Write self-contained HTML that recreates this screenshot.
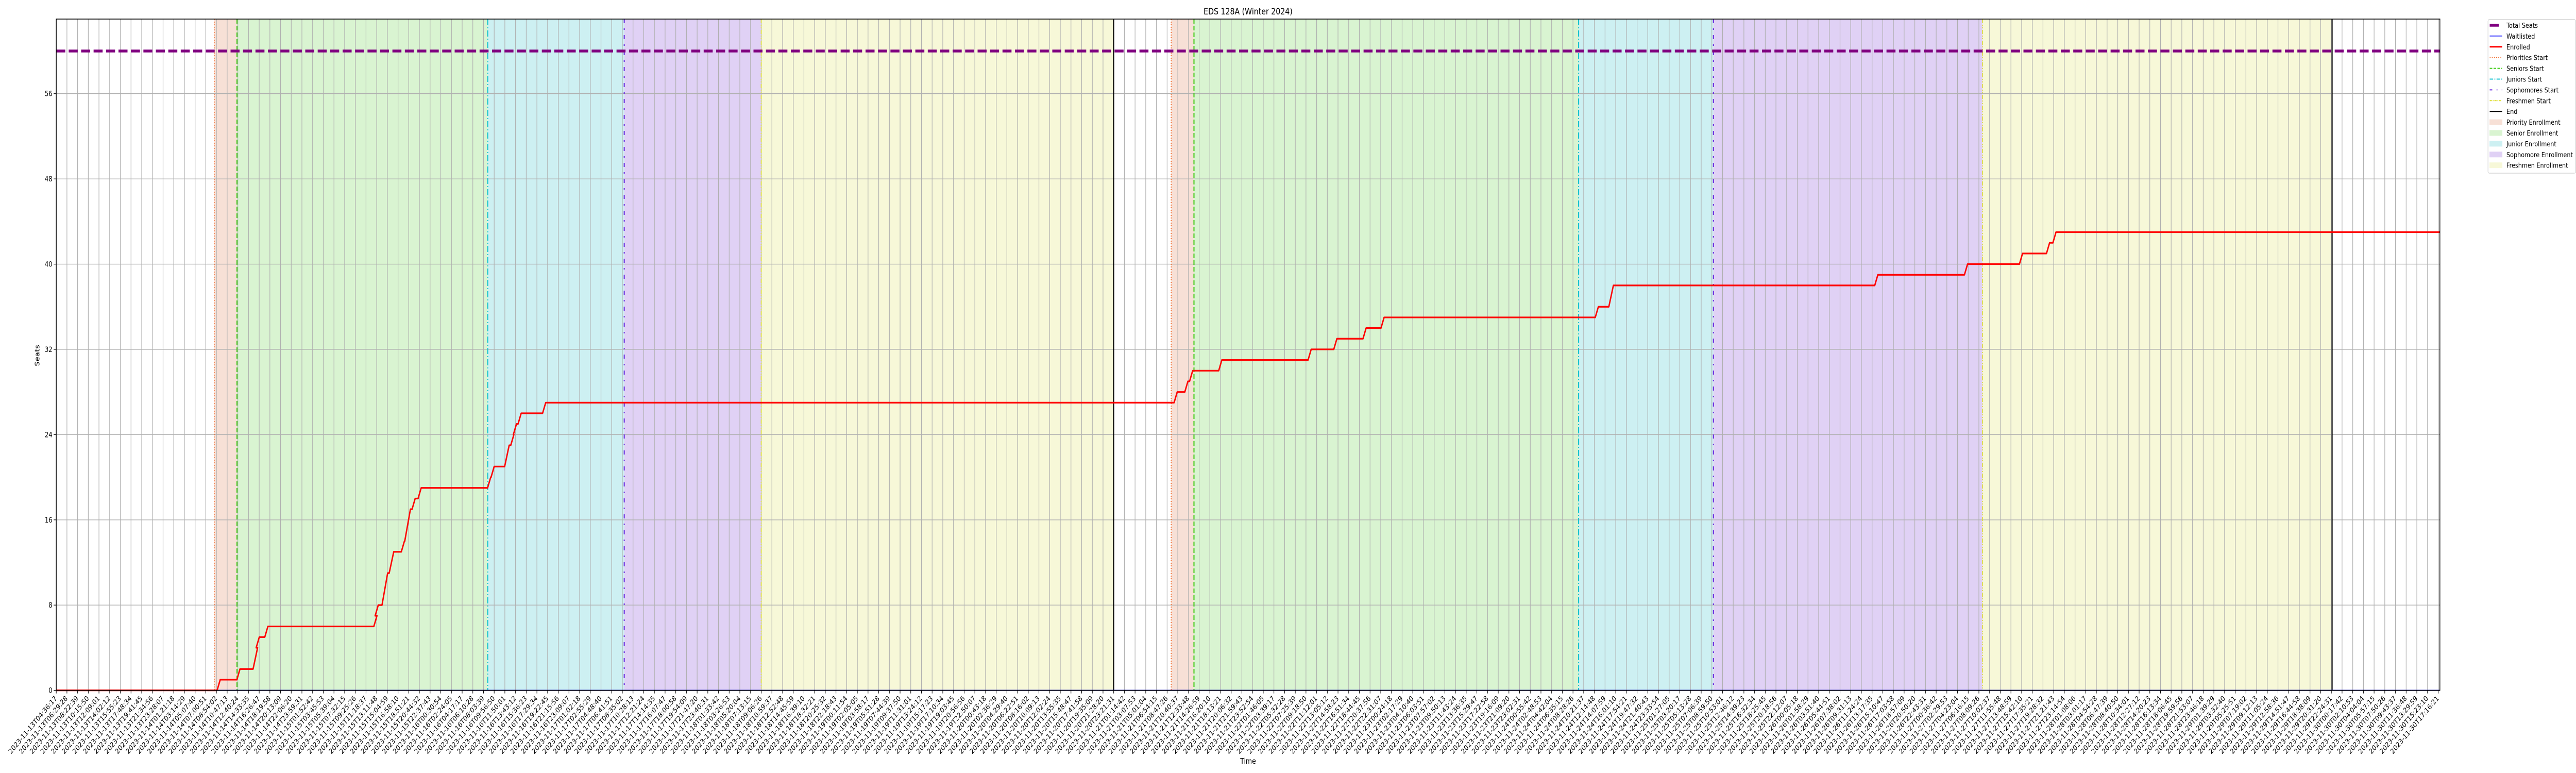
<!DOCTYPE html>
<html>
<head>
<meta charset="utf-8">
<style>
  html,body{margin:0;padding:0;background:#fff;width:100vw;height:100vh;overflow:hidden;}
  svg{display:block;width:100vw;height:100vh;overflow:hidden;font-family:"DejaVu Sans","Liberation Sans",sans-serif;}
</style>
</head>
<body>
<svg id="chart" viewBox="0 0 6000 1500" preserveAspectRatio="none" xmlns="http://www.w3.org/2000/svg">
  <rect x="0" y="0" width="6000" height="1500" fill="#fff"/>
  <g id="bands"></g>
  <g id="grid"></g>
  <g id="vlines"></g>
  <g id="series"></g>
  <g id="axes"></g>
  <text x="2907" y="28" font-size="17" text-anchor="middle" fill="#000">EDS 128A (Winter 2024)</text>
  <text x="2907" y="1482" font-size="15" text-anchor="middle" fill="#000">Time</text>
  <text x="0" y="0" font-size="15" text-anchor="middle" fill="#000" transform="translate(92,690) rotate(-90)">Seats</text>
  <g id="legend"></g>
</svg>
<script>
// ---- data (hours since 2023-11-13T04:36:17) ----
const startISO = "2023-11-13T04:36:17";
const xMaxHours = 420.97;
const yMax = 63;
const totalSeats = [60];
const yTicks = [0, 8, 16, 24, 32, 40, 48, 56];
const tickCount = 224;
const tickSpanHours = 420.668;
const prioritiesStart = [27.90, 196.91];
const seniorsStart = [31.92, 200.93];
const juniorsStart = [76.20, 268.86];
const sophomoresStart = [100.31, 292.67];
const freshmenStart = [124.50, 340.21];
const endTimes = [186.75, 401.93];
const enrolledTimes = [0, 28.96, 32.45, 35.56, 35.86, 37.38, 56.64, 56.87, 58.53, 59.60, 61.49, 62.55, 63.39, 64.45, 76.73, 77.34, 79.99, 80.82, 81.28, 82.11, 86.44,
  197.97, 199.86, 200.70, 205.85, 221.63, 226.17, 231.33, 234.51, 272.35, 275.00, 321.71, 337.55, 347.26, 352.04, 353.17];
const enrolledValues = [0, 1, 2, 4, 5, 6, 7, 8, 11, 13, 14, 17, 18, 19, 20, 21, 23, 24, 25, 26, 27,
  28, 29, 30, 31, 32, 33, 34, 35, 36, 38, 39, 40, 41, 42, 43];
const waitlistedTimes = [0, 420.97];
const waitlistedValues = [0, 0];

// ---- geometry ----
const L = 131, R = 5683, T = 37, B = 1339.6;
const NS = "http://www.w3.org/2000/svg";
function xs(h){ return L + h / xMaxHours * (R - L); }
function ys(v){ return B - v / yMax * (B - T); }
function mk(tag, attrs, parent){
  const e = document.createElementNS(NS, tag);
  for (const k in attrs) e.setAttribute(k, attrs[k]);
  parent.appendChild(e);
  return e;
}
const bands = document.getElementById('bands');
const grid = document.getElementById('grid');
const vlines = document.getElementById('vlines');
const series = document.getElementById('series');
const axes = document.getElementById('axes');
const legend = document.getElementById('legend');

// bands
const bandColors = ['#f7e0d6', '#d9f4d1', '#cdf0f2', '#e0d1f5', '#f7f8d8'];
const bandNames = ['priority-enrollment-band', 'senior-enrollment-band', 'junior-enrollment-band', 'sophomore-enrollment-band', 'freshmen-enrollment-band'];
for (let p = 0; p < endTimes.length; p++) {
  const edges = [prioritiesStart[p], seniorsStart[p], juniorsStart[p], sophomoresStart[p], freshmenStart[p], endTimes[p]];
  for (let i = 0; i < 5; i++) {
    const r = mk('rect', {x: xs(edges[i]), y: T, width: xs(edges[i+1]) - xs(edges[i]), height: B - T, fill: bandColors[i]}, bands);
    
    
  }
}

// x ticks
const startMs = Date.parse(startISO + "Z");
function fmt(ms){ return new Date(ms).toISOString().slice(0, 19); }
const tickHours = [];
const tickLabels = [];
for (let i = 0; i < tickCount; i++) {
  const h = i * tickSpanHours / (tickCount - 1);
  tickHours.push(h);
  tickLabels.push(fmt(startMs + h * 3600000));
}
tickHours.forEach((h, i) => {
  const x = xs(h);
  const g = mk('line', {x1: x, x2: x, y1: T, y2: B, stroke: '#b0b0b0', 'stroke-width': 1.4}, grid);
  
  
  const tk = mk('line', {x1: x, x2: x, y1: B, y2: B + 6, stroke: '#000', 'stroke-width': 1.2}, axes);
  
  
  const t = mk('text', {'font-size': 14, 'text-anchor': 'end', fill: '#000', transform: 'translate(' + (x - 5) + ',' + (B + 9) + ') rotate(-45)', dy: '0.75em'}, axes);
  t.textContent = tickLabels[i];
  
  
});

// y ticks
yTicks.forEach(v => {
  const y = ys(v);
  const g = mk('line', {x1: L, x2: R, y1: y, y2: y, stroke: '#b0b0b0', 'stroke-width': 1.4}, grid);
  
  
  const tk = mk('line', {x1: L - 6, x2: L, y1: y, y2: y, stroke: '#000', 'stroke-width': 1.2}, axes);
  
  
  const t = mk('text', {x: L - 9, y: y + 5, 'font-size': 14, 'text-anchor': 'end', fill: '#000'}, axes);
  t.textContent = v;
  
  
});

// vertical phase lines
const vStyles = [
  {arr: prioritiesStart, color: '#f26b2b', dash: '2 3', w: 2, name: 'priorities-start-line'},
  {arr: seniorsStart, color: '#3fcc14', dash: '9 4', w: 2.5, name: 'seniors-start-line'},
  {arr: juniorsStart, color: '#18c3d0', dash: '12 4 2 4', w: 2.5, name: 'juniors-start-line'},
  {arr: sophomoresStart, color: '#6a2be0', dash: '8 10 3 10', w: 2.5, name: 'sophomores-start-line'},
  {arr: freshmenStart, color: '#dede33', dash: '8 3 2 3 2 3', w: 2, name: 'freshmen-start-line'},
  {arr: endTimes, color: '#000', dash: 'none', w: 2.5, name: 'end-line'}
];
vStyles.forEach(s => {
  s.arr.forEach(h => {
    const x = xs(h);
    const l = mk('line', {x1: x, x2: x, y1: T, y2: B, stroke: s.color, 'stroke-width': s.w, 'stroke-dasharray': s.dash}, vlines);
    
    
  });
});

// total seats
const ts = mk('line', {x1: L, x2: R, y1: ys(totalSeats[0]), y2: ys(totalSeats[0]), stroke: '#800080', 'stroke-width': 5.5, 'stroke-dasharray': '21 8'}, series);



// waitlisted
let wd = '';
waitlistedTimes.forEach((h, i) => { wd += (i ? 'L' : 'M') + xs(h) + ',' + ys(waitlistedValues[i]); });
const wl = mk('path', {d: wd, fill: 'none', stroke: '#0000ff', 'stroke-width': 2}, series);



// enrolled (step with short ramps)
let ed = 'M' + xs(enrolledTimes[0]) + ',' + ys(enrolledValues[0]);
for (let i = 1; i < enrolledTimes.length; i++) {
  const dv = Math.abs(enrolledValues[i] - enrolledValues[i-1]);
  const ramp = Math.min(0.3 + 0.25 * dv, 1.0);
  ed += 'L' + xs(enrolledTimes[i] - ramp) + ',' + ys(enrolledValues[i-1]);
  ed += 'L' + xs(enrolledTimes[i]) + ',' + ys(enrolledValues[i]);
}
ed += 'L' + xs(xMaxHours) + ',' + ys(enrolledValues[enrolledValues.length - 1]);
const en = mk('path', {d: ed, fill: 'none', stroke: '#ff0000', 'stroke-width': 3.2, 'stroke-linejoin': 'round'}, series);



// frame
const fr = mk('rect', {x: L, y: T, width: R - L, height: B - T, fill: 'none', stroke: '#000', 'stroke-width': 1.6}, axes);



// legend
const lb = mk('rect', {x: 5795, y: 38, width: 204, height: 298, rx: 3, fill: '#fff', 'fill-opacity': 0.85, stroke: '#cccccc', 'stroke-width': 1.2}, legend);


const legendItems = [
  {label: 'Total Seats', type: 'line', color: '#800080', w: 5.5, dash: 'none', hx2: 5820},
  {label: 'Waitlisted', type: 'line', color: '#0000ff', w: 1.5, dash: 'none'},
  {label: 'Enrolled', type: 'line', color: '#ff0000', w: 3, dash: 'none'},
  {label: 'Priorities Start', type: 'line', color: '#f26b2b', w: 2, dash: '2 3'},
  {label: 'Seniors Start', type: 'line', color: '#3fcc14', w: 2, dash: '6 3'},
  {label: 'Juniors Start', type: 'line', color: '#18c3d0', w: 2, dash: '8 3 2 3'},
  {label: 'Sophomores Start', type: 'line', color: '#6a2be0', w: 2, dash: '6 10 2 10'},
  {label: 'Freshmen Start', type: 'line', color: '#dede33', w: 2, dash: '5 2 2 2'},
  {label: 'End', type: 'line', color: '#000', w: 2, dash: 'none'},
  {label: 'Priority Enrollment', type: 'patch', color: '#f7e0d6'},
  {label: 'Senior Enrollment', type: 'patch', color: '#d9f4d1'},
  {label: 'Junior Enrollment', type: 'patch', color: '#cdf0f2'},
  {label: 'Sophomore Enrollment', type: 'patch', color: '#e0d1f5'},
  {label: 'Freshmen Enrollment', type: 'patch', color: '#f7f8d8'}
];
legendItems.forEach((it, i) => {
  const cy = 49 + i * 20.9;
  const g = mk('g', {}, legend);
  
  
  if (it.type === 'line') {
    mk('line', {x1: 5799, x2: it.hx2 || 5828, y1: cy, y2: cy, stroke: it.color, 'stroke-width': it.w, 'stroke-dasharray': it.dash}, g);
  } else {
    mk('rect', {x: 5799, y: cy - 5, width: 29, height: 10, fill: it.color, stroke: it.color, 'stroke-width': 1}, g);
  }
  const t = mk('text', {x: 5838, y: cy + 5, 'font-size': 13.5, fill: '#000'}, g);
  t.textContent = it.label;
});
</script>
</body>
</html>
